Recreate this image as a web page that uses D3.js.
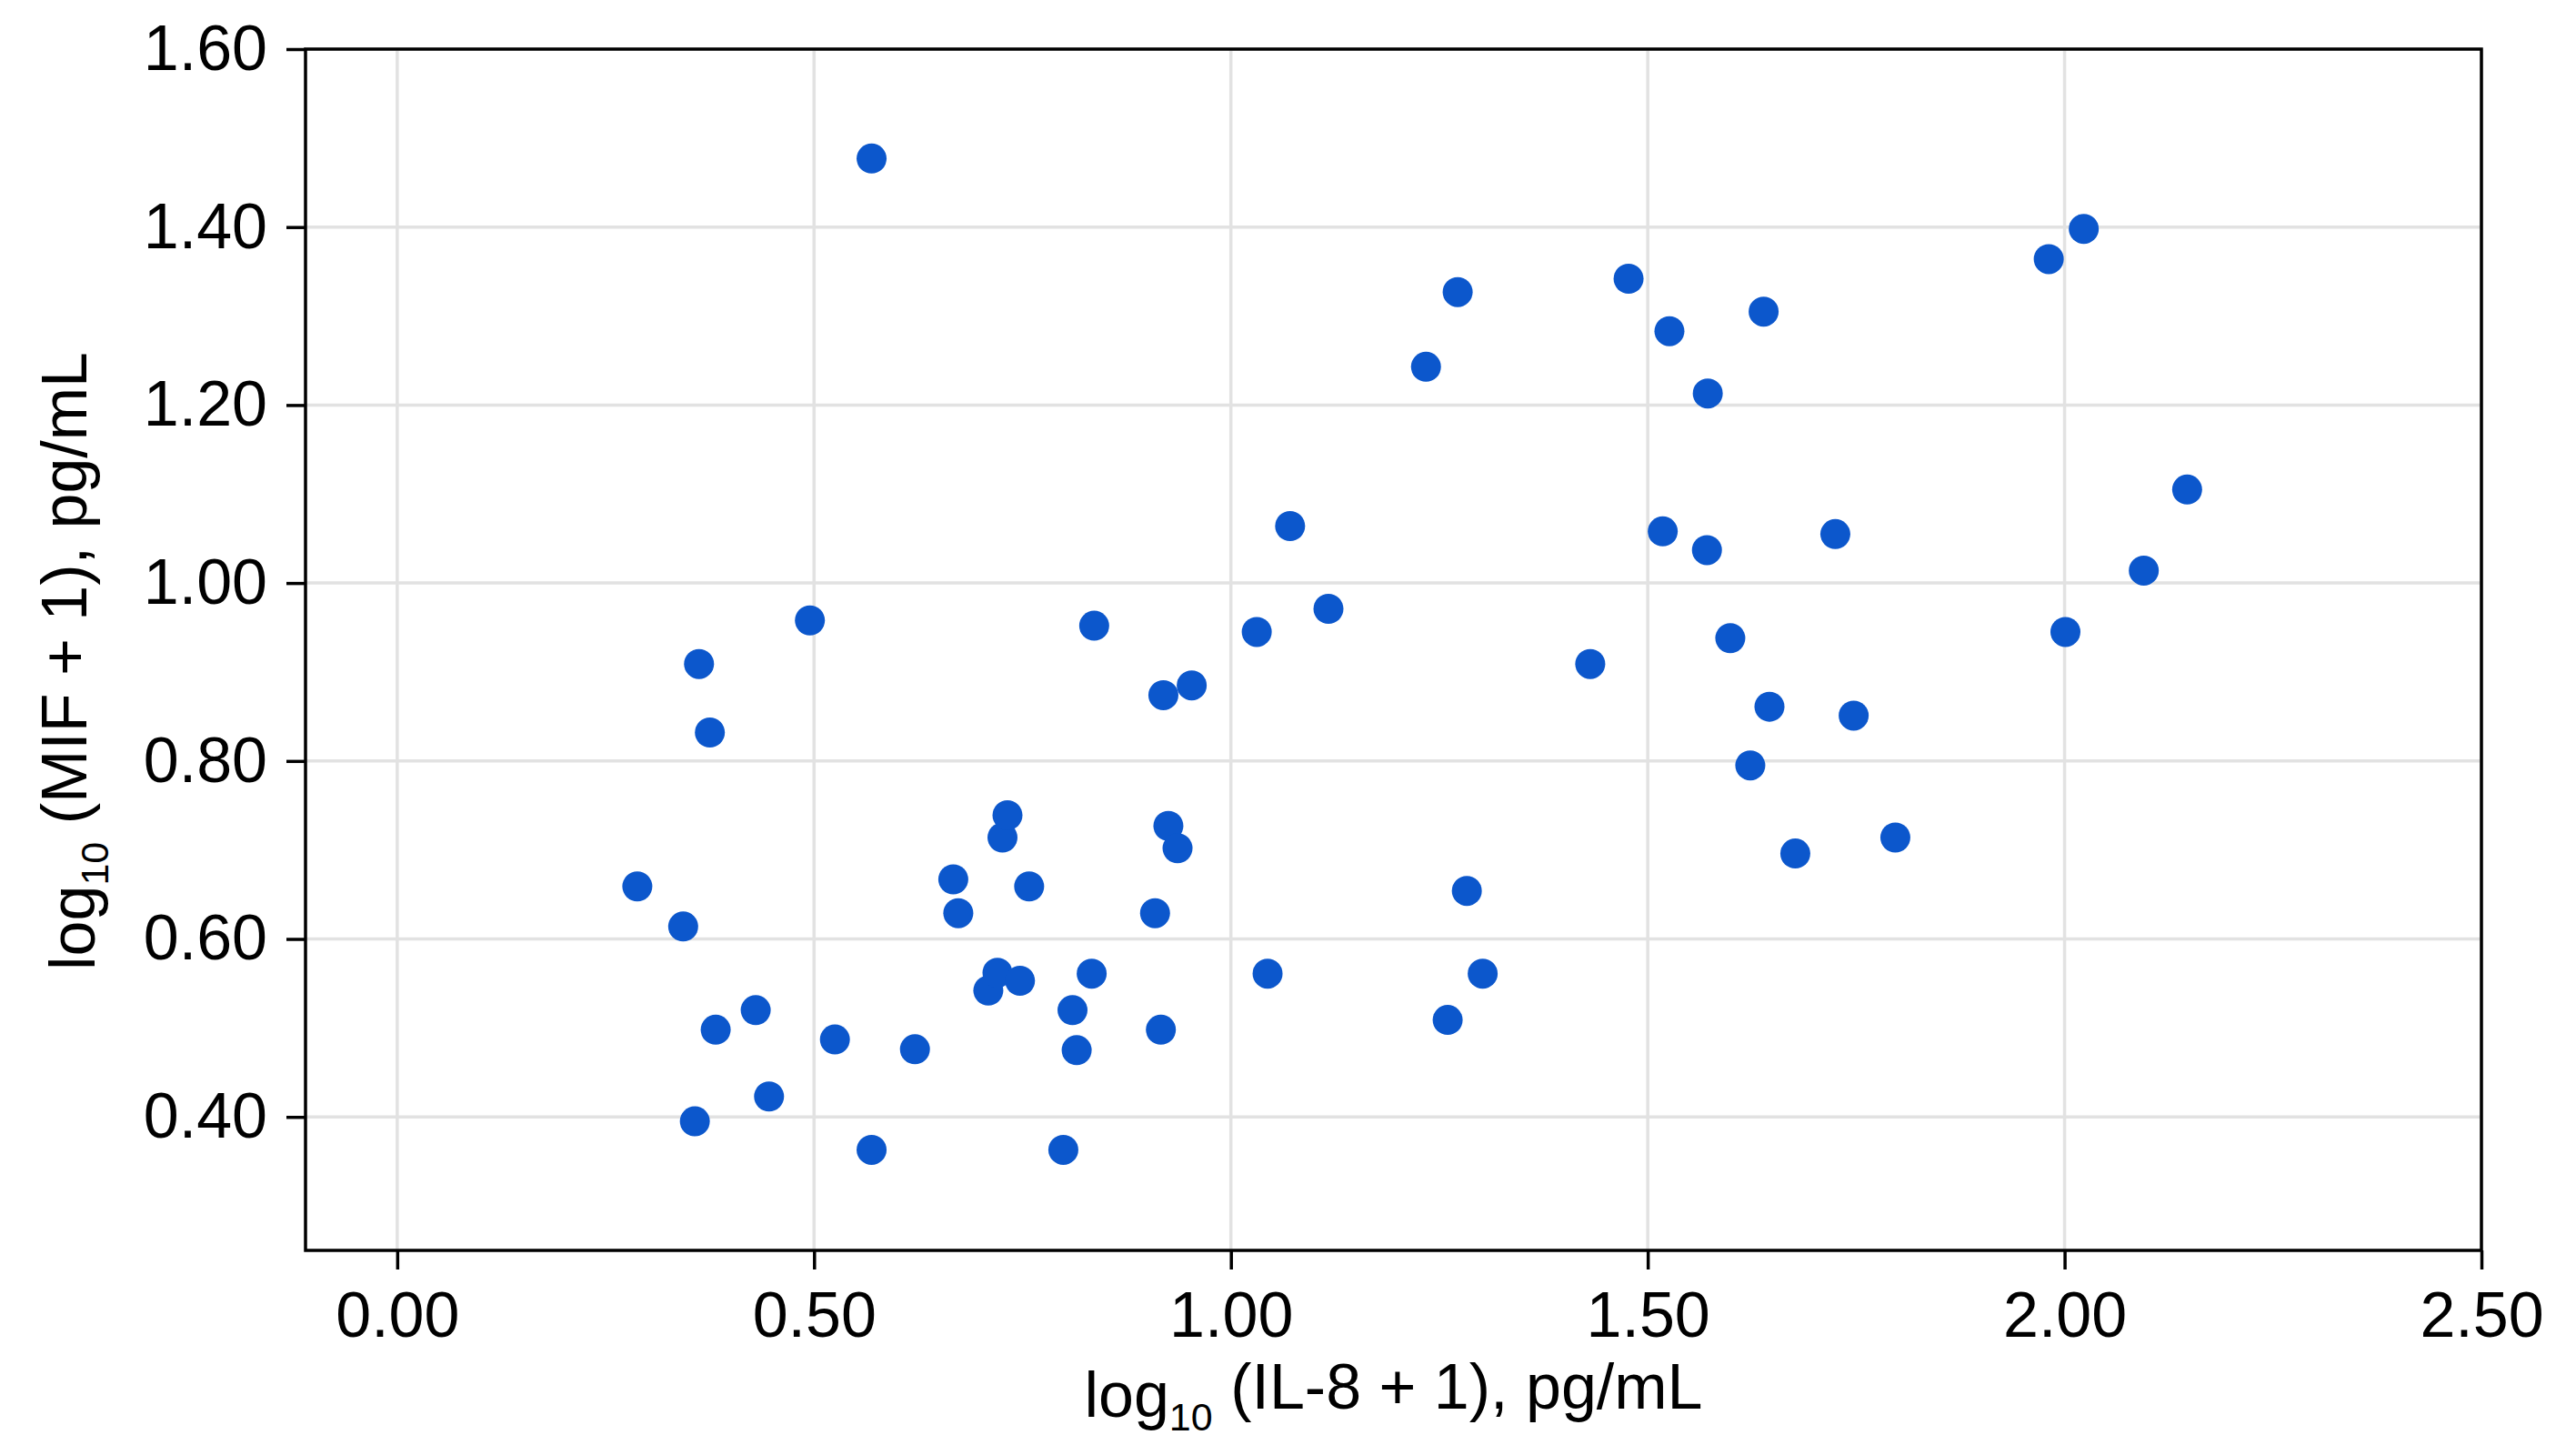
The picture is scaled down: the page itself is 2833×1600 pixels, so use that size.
<!DOCTYPE html>
<html>
<head>
<meta charset="utf-8">
<script src="https://cdn.jsdelivr.net/npm/d3@7"></script>
<style>
  html, body { margin: 0; padding: 0; background: #ffffff; }
  svg { display: block; }
</style>
</head>
<body>
<svg id="chart" width="2833" height="1600"></svg>
<script>
// ---- data ----
const il8 = [
  0.569, 0.288, 0.343, 0.362, 0.375, 0.382, 0.357, 0.430, 0.446, 0.495,
  0.525, 0.569, 0.621, 0.667, 0.673, 0.709, 0.720, 0.726, 0.732, 0.747,
  0.758, 0.810, 0.815, 0.833, 0.799, 0.836, 0.909, 0.916, 0.919, 0.925,
  0.936, 0.953, 1.031, 1.044, 1.071, 1.117, 1.234, 1.260, 1.272, 1.283,
  1.302, 1.431, 1.477, 1.526, 1.518, 1.572, 1.571, 1.599, 1.639, 1.646,
  1.623, 1.677, 1.725, 1.747, 1.797, 1.981, 2.023, 2.001, 2.095, 2.147
];
const mif = [
  1.477, 0.659, 0.614, 0.909, 0.832, 0.498, 0.395, 0.520, 0.423, 0.958,
  0.487, 0.363, 0.476, 0.667, 0.629, 0.542, 0.562, 0.714, 0.739, 0.553,
  0.659, 0.520, 0.475, 0.561, 0.363, 0.952, 0.629, 0.498, 0.874, 0.727,
  0.702, 0.885, 0.945, 0.561, 1.064, 0.971, 1.243, 0.509, 1.327, 0.654,
  0.561, 0.909, 1.342, 1.283, 1.058, 1.213, 1.037, 0.938, 1.305, 0.861,
  0.795, 0.696, 1.055, 0.851, 0.714, 1.364, 1.398, 0.945, 1.014, 1.105
];
const xTicks = [0.0, 0.5, 1.0, 1.5, 2.0, 2.5];
const yTicks = [0.4, 0.6, 0.8, 1.0, 1.2, 1.4, 1.6];
const xDomain = [-0.11, 2.5];
const yDomain = [0.25, 1.6];

// ---- layout ----
const W = 2833, H = 1600;
const margin = { left: 336, right: 104, top: 54, bottom: 225 };
const iw = W - margin.left - margin.right;
const ih = H - margin.top - margin.bottom;
const FONT = "'Liberation Sans', Arial, Helvetica, sans-serif";
const dotColor = "#0c57cc";
const gridColor = "#e2e2e2";

const svg = d3.select("#chart");
const g = svg.append("g").attr("transform", `translate(${margin.left},${margin.top})`);

const x = d3.scaleLinear().domain(xDomain).range([0, iw]);
const y = d3.scaleLinear().domain(yDomain).range([ih, 0]);

// grid
g.append("g").selectAll("line.vg").data(xTicks).join("line")
  .attr("x1", d => x(d)).attr("x2", d => x(d))
  .attr("y1", 0).attr("y2", ih)
  .attr("stroke", gridColor).attr("stroke-width", 3.5);
g.append("g").selectAll("line.hg").data(yTicks).join("line")
  .attr("x1", 0).attr("x2", iw)
  .attr("y1", d => y(d)).attr("y2", d => y(d))
  .attr("stroke", gridColor).attr("stroke-width", 3.5);

// points
const pts = il8.map((v, i) => ({ x: v, y: mif[i] }));
g.append("g").selectAll("circle").data(pts).join("circle")
  .attr("cx", d => x(d.x)).attr("cy", d => y(d.y))
  .attr("r", 16.5).attr("fill", dotColor);

// frame
g.append("rect").attr("x", 0).attr("y", 0).attr("width", iw).attr("height", ih)
  .attr("fill", "none").attr("stroke", "#000").attr("stroke-width", 3.5);

// axes
const xAxis = d3.axisBottom(x).tickValues(xTicks).tickFormat(d3.format(".2f"))
  .tickSize(21).tickPadding(24);
const yAxis = d3.axisLeft(y).tickValues(yTicks).tickFormat(d3.format(".2f"))
  .tickSize(21).tickPadding(21);

const gx = g.append("g").attr("transform", `translate(0,${ih})`).call(xAxis);
const gy = g.append("g").call(yAxis);
[gx, gy].forEach(a => {
  a.select(".domain").remove();
  a.selectAll(".tick line").attr("stroke", "#000").attr("stroke-width", 3.5);
  a.selectAll(".tick text").attr("fill", "#000")
    .style("font-family", FONT).style("font-size", "70px");
});

// axis titles
function title(sel, name) {
  sel.append("tspan").text("log");
  sel.append("tspan").text("10").style("font-size", "43px").attr("dy", "0.35em");
  sel.append("tspan").text(" (" + name + " + 1), pg/mL").attr("dy", "-0.35em")
    .style("font-size", "70px");
}
const xt = svg.append("text")
  .attr("x", margin.left + iw / 2).attr("y", 1558)
  .attr("text-anchor", "middle").attr("fill", "#000")
  .style("font-family", FONT).style("font-size", "70px");
title(xt, "IL-8");

const yt = svg.append("text")
  .attr("transform", `translate(104,727) rotate(-90)`)
  .attr("text-anchor", "middle").attr("fill", "#000")
  .style("font-family", FONT).style("font-size", "70px");
title(yt, "MIF");
</script>
</body>
</html>
